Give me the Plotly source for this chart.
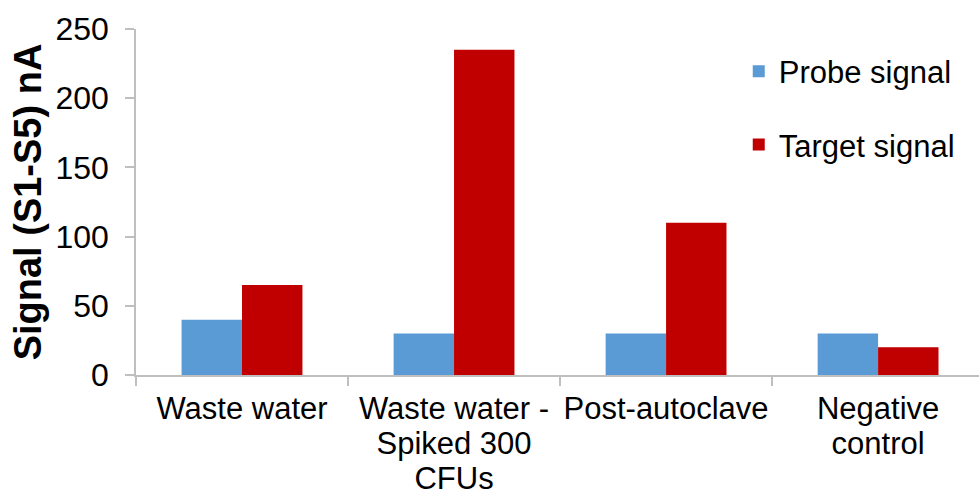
import plotly.graph_objects as go

categories = ["Waste water", "Waste water -<br>Spiked 300<br>CFUs", "Post-autoclave", "Negative<br>control"]
probe_signal = [40, 30, 30, 30]
target_signal = [65, 235, 110, 20]
y_ticks = [0, 50, 100, 150, 200, 250]

FONT = "Liberation Sans, Arial, sans-serif"
AXIS_GREY = "#BFBFBF"

# category labels drawn a touch larger than the base tick font, which keeps
# the wrapped lines close together
tick_text = ["<br>".join(f"<span style='font-size:31px'>{part}</span>" for part in c.split("<br>"))
             for c in categories]

fig = go.Figure()
fig.add_trace(go.Bar(name="Probe signal", x=categories, y=probe_signal,
                     marker=dict(color="#5B9BD5", line=dict(width=0)),
                     legendgroup="p"))
fig.add_trace(go.Bar(name="Target signal", x=categories, y=target_signal,
                     marker=dict(color="#C00000", line=dict(width=0)),
                     legendgroup="t"))

fig.update_layout(
    width=979, height=499,
    margin=dict(l=136, r=0, t=29, b=124, autoexpand=False),
    paper_bgcolor="white", plot_bgcolor="white",
    barmode="group", bargap=0.43, bargroupgap=0,
    font=dict(family=FONT, size=31, color="black"),
    legend=dict(x=0.715, y=0.955, xanchor="left", yanchor="top",
                font=dict(size=31), tracegroupgap=30,
                traceorder="grouped", bgcolor="rgba(0,0,0,0)"),
    showlegend=True,
)
fig.update_xaxes(
    type="category", range=[-0.5, 3.476],
    tickvals=categories, ticktext=tick_text,
    showline=True, linecolor=AXIS_GREY, linewidth=1.5,
    ticks="outside", tickson="boundaries", ticklen=9, tickcolor=AXIS_GREY, tickwidth=1.5,
    showgrid=False, tickfont=dict(size=27), tickangle=0, automargin=False,
    ticklabelstandoff=10, fixedrange=True,
)
fig.update_yaxes(
    range=[0, 250], tickvals=y_ticks,
    showline=True, linecolor=AXIS_GREY, linewidth=1.5,
    ticks="outside", ticklen=9, tickcolor=AXIS_GREY, tickwidth=1.5,
    showgrid=False, zeroline=False, tickfont=dict(size=32), automargin=False,
    ticklabelstandoff=10,
    title=dict(text="<b>Signal (S1-S5) nA</b>", font=dict(size=38), standoff=2),
)

fig.write_html("out.html")
